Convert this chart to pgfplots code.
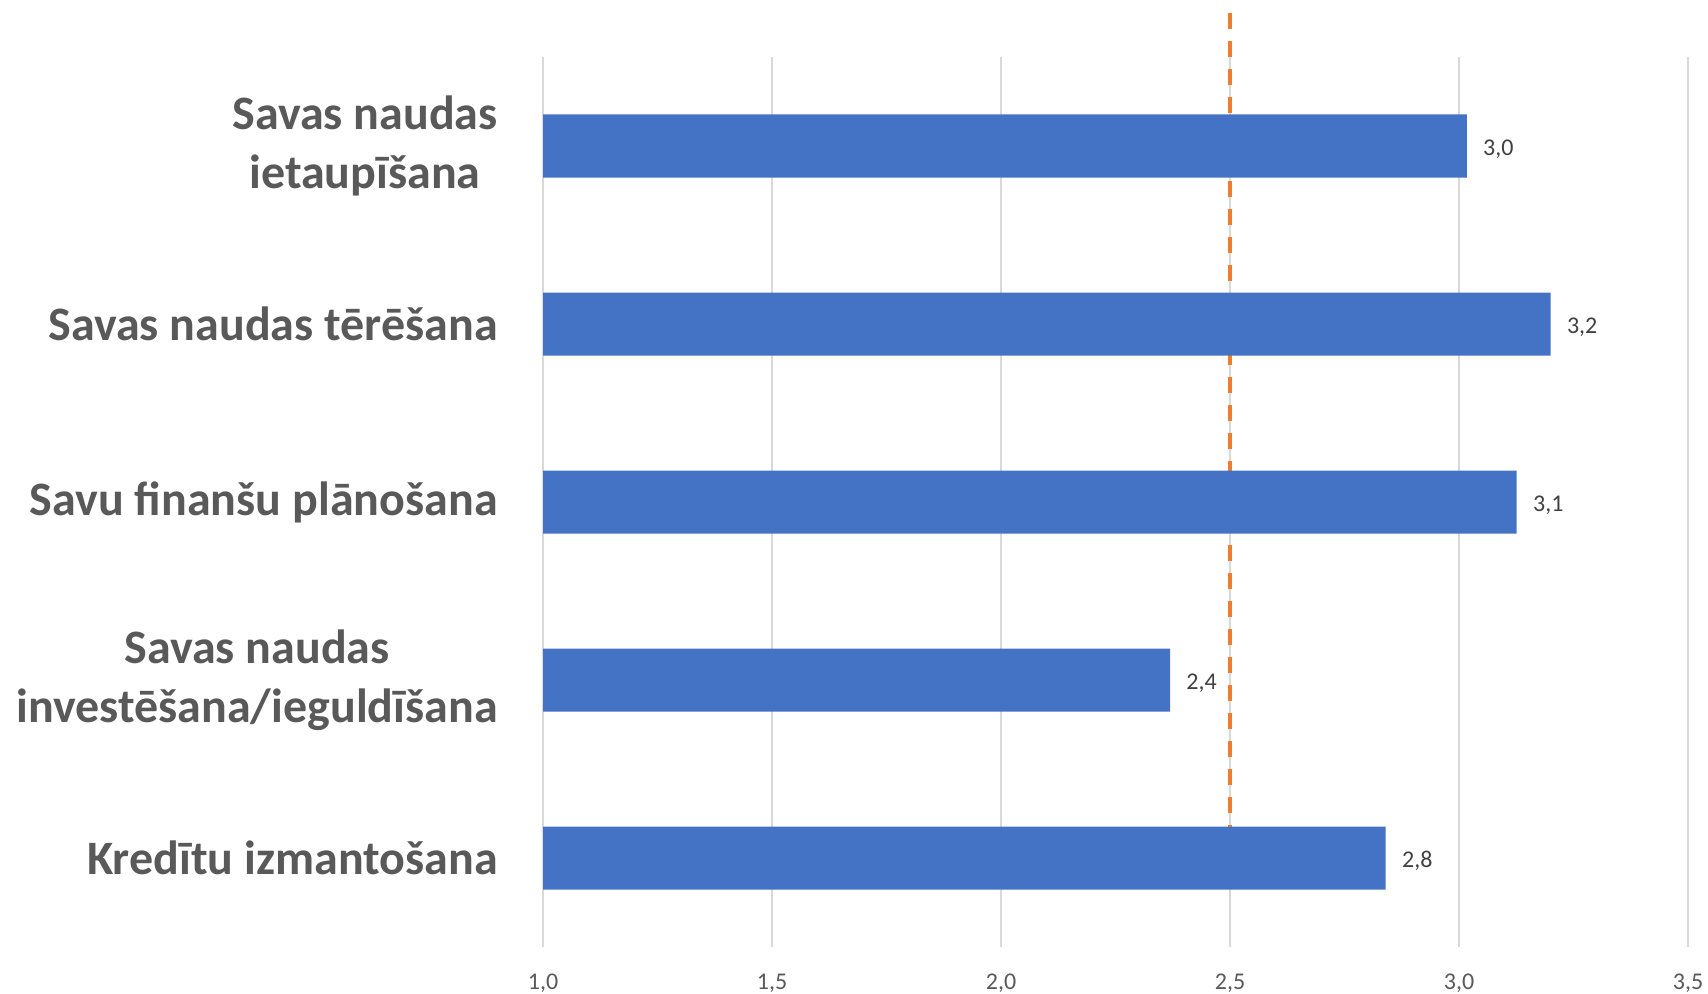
\documentclass[border=0pt]{standalone}
\usepackage{fontspec}
\setmainfont{Carlito}
\usepackage{pgfplots}
\pgfplotsset{compat=1.18}
\definecolor{barblue}{HTML}{4472C4}
\definecolor{dashorange}{HTML}{ED7D31}
\definecolor{gridgray}{HTML}{D9D9D9}
\definecolor{labgray}{HTML}{595959}
\definecolor{valgray}{HTML}{404040}
\pgfplotsset{common/.style={scale only axis, width=572.5pt, height=445pt,
  xmin=1, xmax=3.5, ymin=0.5, ymax=5.5, at={(0,0)}, anchor=south west}}
\begin{document}
\begin{tikzpicture}
\path[use as bounding box] (-271.5pt,-23pt) rectangle (582.5pt,473.5pt);
\begin{axis}[common, clip=false,
  axis line style={draw=none},
  major tick length=0pt,
  xtick={1,1.5,2,2.5,3,3.5},
  xmajorgrids, grid style={gridgray, line width=0.9pt},
  xticklabel={\pgfmathprintnumber[assume math mode=true,use comma,fixed,fixed zerofill,precision=1]{\tick}},
  xticklabel style={font=\fontsize{12}{14}\selectfont, text=labgray, anchor=north, inner sep=0pt, yshift=-13.5pt},
  ytick={1,2,3,4,5},
  yticklabels={{Kredītu izmantošana},{Savas naudas\\investēšana/ieguldīšana},{Savu finanšu plānošana},{Savas naudas tērēšana},{Savas naudas\\ietaupīšana}},
  yticklabel style={font=\fontsize{24}{29.5}\selectfont\bfseries, text=labgray, align=center, anchor=east, inner sep=0pt, xshift=-22.5pt},
]
\addplot[dashorange, line width=2pt, dash pattern=on 8pt off 6pt] coordinates {(2.5,5.747) (2.5,1)};
\end{axis}
\begin{axis}[common, hide axis, xbar, bar width=31.5pt,
  point meta=x,
  nodes near coords={\pgfmathprintnumber[assume math mode=true,use comma,fixed,fixed zerofill,precision=1]{\pgfplotspointmeta}},
  nodes near coords style={font=\fontsize{12}{14}\selectfont, text=valgray, anchor=west, inner sep=0pt, xshift=8pt, yshift=-1.5pt},
]
\addplot[fill=barblue, draw=none] coordinates {(3.017,5) (3.2,4) (3.126,3) (2.369,2) (2.840,1)};
\end{axis}
\end{tikzpicture}
\end{document}
